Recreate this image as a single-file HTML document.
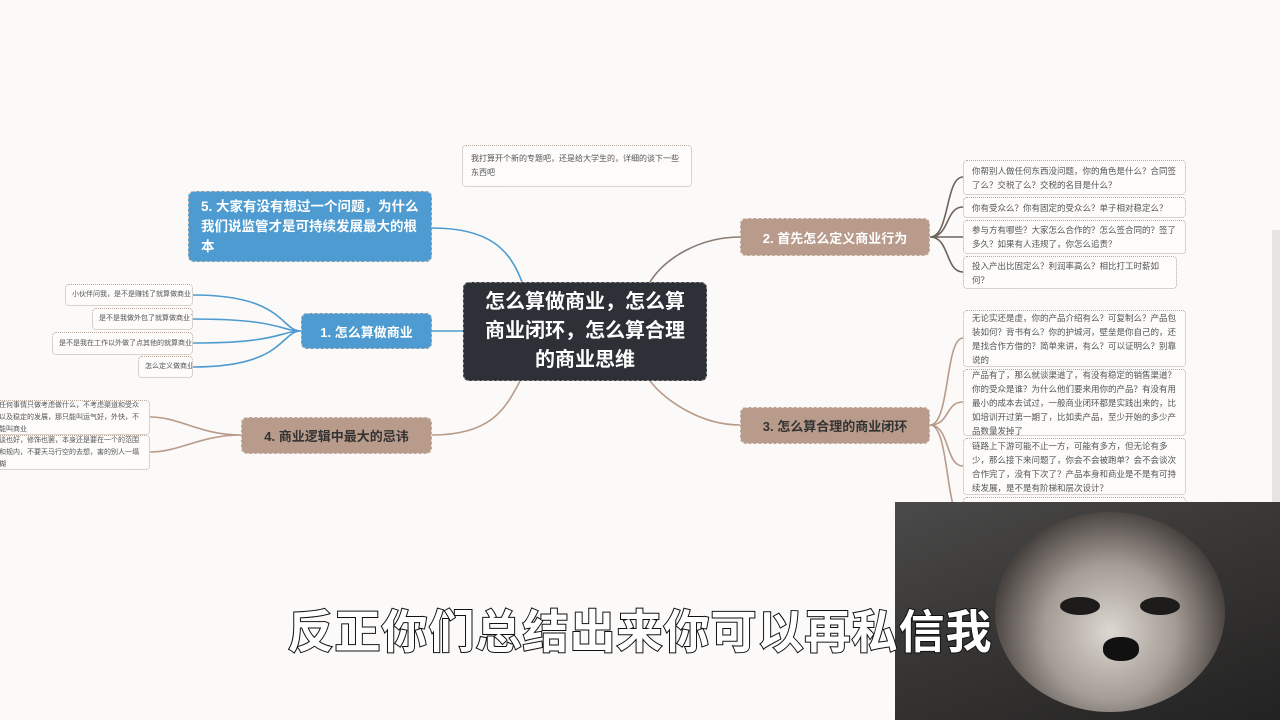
<!DOCTYPE html>
<html lang="zh"><head><meta charset="utf-8">
<style>
*{box-sizing:border-box;margin:0;padding:0}
body{width:1280px;height:720px;overflow:hidden;background:#fbfaf8;position:relative;font-family:"Liberation Sans","Noto Sans CJK SC",sans-serif}
.b{position:absolute;display:flex;align-items:center}
.leaf{border:1.5px dotted #b9a79c;border-radius:4px;background:#fdfcfb;color:#555;font-size:8.5px;line-height:14px;padding:2px 8px}
.nw{white-space:nowrap;overflow:hidden;font-size:7.5px;padding:0 6px}
.blue{background:#4d9bd0;color:#fff;font-weight:bold;border:1.5px dashed #cfc2b8;border-radius:6px}
.tan{background:#b89b8b;color:#333;font-weight:bold;border:1.5px dashed #e6dcd4;border-radius:6px;justify-content:center}
svg{position:absolute;left:0;top:0}
</style></head><body>
<svg width="1280" height="720">
<g fill="none" stroke-width="1.6">
<path d="M432 228 C490 228 510 250 522 282" stroke="#4d9bd0"/>
<path d="M432 331 L463 331" stroke="#4d9bd0"/>
<path d="M432 435 C490 435 505 410 520 381" stroke="#b89b8b"/>
<path d="M650 282 C665 258 700 237 740 237" stroke="#8b7a70"/>
<path d="M650 381 C665 400 700 425 740 425" stroke="#b89b8b"/>
<path d="M301 331 C280 331 285 295 193 295 M301 331 C280 331 280 319 193 319 M301 331 C280 331 280 343 193 343 M301 331 C280 331 285 367 193 367" stroke="#4d9bd0"/>
<path d="M241 435 C200 435 180 417 150 417 M241 435 C200 435 180 452 150 452" stroke="#b89b8b"/>
<path d="M930 237 C950 237 945 177 963 177 M930 237 C950 237 945 207 963 207 M930 237 L963 237 M930 237 C950 237 945 272 963 272" stroke="#6e625b"/>
<path d="M930 425 C950 425 945 338 963 338 M930 425 C950 425 945 402 963 402 M930 425 C950 425 945 466 963 466 M930 425 C950 425 945 520 963 520" stroke="#b89b8b"/>
</g></svg>

<div class="b leaf" style="left:462px;top:145px;width:230px;height:42px;font-size:8px">我打算开个新的专题吧，还是给大学生的，详细的谈下一些东西吧</div>

<div class="b" style="left:463px;top:282px;width:244px;height:99px;background:#2e3038;color:#fff;font-weight:bold;font-size:20px;line-height:29px;text-align:center;justify-content:center;border-radius:6px;border:1.5px dashed #888">怎么算做商业，怎么算<br>商业闭环，怎么算合理<br>的商业思维</div>

<div class="b blue" style="left:188px;top:191px;width:244px;height:71px;font-size:13.5px;line-height:20px;padding:0 12px">5. 大家有没有想过一个问题，为什么我们说监管才是可持续发展最大的根本</div>
<div class="b blue" style="left:301px;top:313px;width:131px;height:36px;font-size:13px;justify-content:center">1. 怎么算做商业</div>
<div class="b tan" style="left:241px;top:417px;width:191px;height:37px;font-size:13px">4. 商业逻辑中最大的忌讳</div>
<div class="b tan" style="left:740px;top:218px;width:190px;height:38px;font-size:13px;color:#fff">2. 首先怎么定义商业行为</div>
<div class="b tan" style="left:740px;top:407px;width:190px;height:37px;font-size:13px">3. 怎么算合理的商业闭环</div>

<div class="b leaf nw" style="left:65px;top:284px;width:128px;height:22px;font-size:7px">小伙伴问我，是不是赚钱了就算做商业了</div>
<div class="b leaf nw" style="left:92px;top:308px;width:101px;height:22px;font-size:7px">是不是我做外包了就算做商业了</div>
<div class="b leaf nw" style="left:52px;top:332px;width:141px;height:23px;font-size:7px">是不是我在工作以外做了点其他的就算商业了</div>
<div class="b leaf nw" style="left:138px;top:356px;width:55px;height:22px;font-size:7px">怎么定义做商业</div>

<div class="b leaf" style="left:-10px;top:400px;width:160px;height:35px;font-size:7px;line-height:12px;overflow:hidden">任何事情只做考虑做什么，不考虑渠道和受众以及稳定的发展，那只能叫运气好，外快，不能叫商业</div>
<div class="b leaf" style="left:-10px;top:435px;width:160px;height:35px;font-size:7px;line-height:12px;overflow:hidden">谈也好，修饰也罢，本身还是要在一个的范围和规内，不要天马行空的去想，害的别人一塌糊</div>

<div class="b leaf" style="left:963px;top:160px;width:223px;height:35px">你帮别人做任何东西没问题，你的角色是什么？合同签了么？交税了么？交税的名目是什么？</div>
<div class="b leaf" style="left:963px;top:197px;width:223px;height:21px">你有受众么？你有固定的受众么？单子相对稳定么？</div>
<div class="b leaf" style="left:963px;top:220px;width:223px;height:34px">参与方有哪些？大家怎么合作的？怎么签合同的？签了多久？如果有人违规了，你怎么追责？</div>
<div class="b leaf" style="left:963px;top:256px;width:214px;height:33px">投入产出比固定么？利润率高么？相比打工时薪如何？</div>

<div class="b leaf" style="left:963px;top:310px;width:223px;height:57px;overflow:hidden">无论实还是虚，你的产品介绍有么？可复制么？产品包装如何？背书有么？你的护城河，壁垒是你自己的，还是找合作方借的？简单来讲，有么？可以证明么？别靠说的</div>
<div class="b leaf" style="left:963px;top:369px;width:223px;height:67px;overflow:hidden">产品有了，那么就谈渠道了，有没有稳定的销售渠道？你的受众是谁？为什么他们要来用你的产品？有没有用最小的成本去试过，一般商业闭环都是实践出来的，比如培训开过第一期了，比如卖产品，至少开始的多少产品数量发掉了</div>
<div class="b leaf" style="left:963px;top:438px;width:223px;height:57px;overflow:hidden">链路上下游可能不止一方，可能有多方，但无论有多少，那么接下来问题了，你会不会被跑单？会不会谈次合作完了，没有下次了？产品本身和商业是不是有可持续发展，是不是有阶梯和层次设计？</div>
<div class="b leaf" style="left:963px;top:497px;width:223px;height:20px"></div>

<div style="position:absolute;left:1272px;top:230px;width:8px;height:290px;background:#e6e4e2"></div>

<div style="position:absolute;left:895px;top:502px;width:385px;height:218px;overflow:hidden;background:linear-gradient(160deg,#4a4a4a,#3a3836 40%,#222 100%)">
<div style="position:absolute;left:100px;top:10px;width:230px;height:200px;border-radius:50%;background:radial-gradient(ellipse at 50% 60%,#ddd8d2 0%,#a49c95 40%,#4a4441 72%,transparent 78%)"></div>
<div style="position:absolute;left:165px;top:95px;width:40px;height:18px;background:#1e1c1b;border-radius:50%"></div>
<div style="position:absolute;left:245px;top:95px;width:40px;height:18px;background:#1e1c1b;border-radius:50%"></div>
<div style="position:absolute;left:208px;top:135px;width:36px;height:24px;background:#111;border-radius:45%"></div>
</div>

<div style="position:absolute;left:0;top:596px;width:1280px;text-align:center;font-size:46px;font-weight:bold;color:#fff;-webkit-text-stroke:2px #111;paint-order:stroke fill;letter-spacing:1px;font-family:'Noto Sans CJK SC',sans-serif">反正你们总结出来你可以再私信我</div>
</body></html>
